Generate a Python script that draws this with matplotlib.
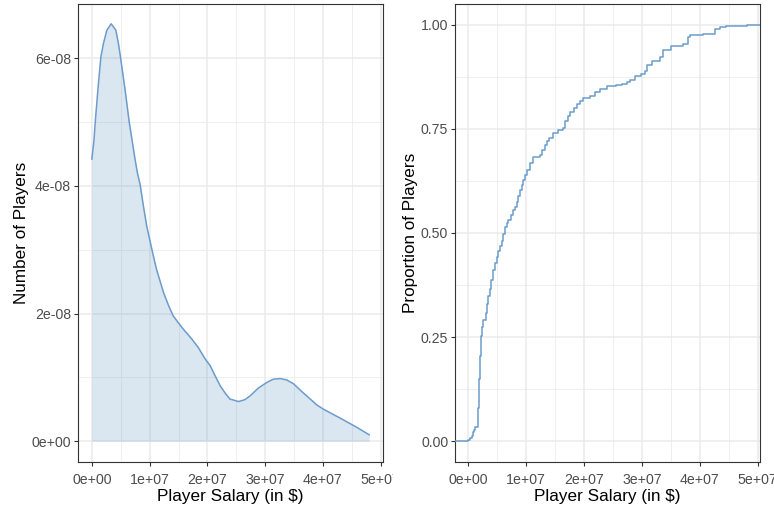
import numpy as np
import matplotlib.pyplot as plt
from matplotlib.patches import Rectangle
from matplotlib.ticker import FixedLocator

# Densidad estimada del salario (x en dólares, y en densidad)
salario_dens = np.array([0.0, 0.035, 0.062, 0.104, 0.156, 0.20, 0.26, 0.334, 0.415, 0.46,
                         0.495, 0.576, 0.645, 0.749, 0.789, 0.836, 0.893, 0.95, 1.04, 1.12,
                         1.24, 1.33, 1.41, 1.56, 1.73, 1.84, 1.96, 2.05, 2.13, 2.22,
                         2.31, 2.39, 2.54, 2.65, 2.74, 2.88, 3.03, 3.14, 3.26, 3.37,
                         3.49, 3.63, 3.78, 3.89, 4.01, 4.30, 4.58, 4.80]) * 1e7
densidad = np.array([4.42, 4.70, 5.04, 5.50, 6.02, 6.23, 6.44, 6.54, 6.44, 6.23,
                     6.02, 5.50, 5.01, 4.41, 4.20, 4.02, 3.68, 3.37, 3.00, 2.69,
                     2.33, 2.12, 1.96, 1.78, 1.60, 1.47, 1.29, 1.18, 1.03, 0.87,
                     0.75, 0.66, 0.62, 0.65, 0.71, 0.83, 0.92, 0.97, 0.98, 0.96,
                     0.90, 0.78, 0.66, 0.57, 0.50, 0.36, 0.22, 0.10]) * 1e-8

# Distribución acumulada empírica (escalones)
salario_ecdf = np.array([0.00, 0.03, 0.06, 0.086, 0.10, 0.116, 0.165, 0.175, 0.185, 0.19,
                         0.20, 0.22, 0.24, 0.26, 0.30, 0.32, 0.345, 0.37, 0.40, 0.43,
                         0.46, 0.49, 0.518, 0.55, 0.577, 0.60, 0.634, 0.66, 0.69, 0.73,
                         0.777, 0.80, 0.836, 0.86, 0.893, 0.92, 0.95, 0.98, 1.01, 1.06,
                         1.12, 1.24, 1.28, 1.32, 1.36, 1.40, 1.47, 1.55, 1.64, 1.67,
                         1.72, 1.76, 1.82, 1.87, 1.93, 1.99, 2.10, 2.19, 2.27, 2.39,
                         2.56, 2.66, 2.74, 2.80, 2.88, 2.99, 3.05, 3.08, 3.17, 3.31,
                         3.37, 3.51, 3.71, 3.80, 3.83, 4.06, 4.26, 4.35, 4.46, 4.81]) * 1e7
proporcion = np.array([0.004, 0.008, 0.013, 0.021, 0.027, 0.033, 0.069, 0.080, 0.100, 0.149,
                       0.205, 0.252, 0.275, 0.292, 0.308, 0.330, 0.348, 0.365, 0.388, 0.410,
                       0.428, 0.443, 0.456, 0.468, 0.480, 0.497, 0.515, 0.523, 0.531, 0.543,
                       0.555, 0.563, 0.575, 0.588, 0.603, 0.615, 0.627, 0.640, 0.651, 0.667,
                       0.683, 0.687, 0.700, 0.711, 0.720, 0.727, 0.739, 0.748, 0.751, 0.770,
                       0.780, 0.790, 0.800, 0.810, 0.817, 0.825, 0.828, 0.838, 0.846, 0.854,
                       0.856, 0.859, 0.862, 0.868, 0.878, 0.882, 0.890, 0.904, 0.912, 0.922,
                       0.940, 0.950, 0.955, 0.971, 0.975, 0.978, 0.990, 0.994, 0.998, 1.000])

x_ticks = [0, 1e7, 2e7, 3e7, 4e7, 5e7]
x_labels = ['0e+00', '1e+07', '2e+07', '3e+07', '4e+07', '5e+07']
y_ticks_dens = [0, 2e-8, 4e-8, 6e-8]
y_labels_dens = ['0e+00', '2e-08', '4e-08', '6e-08']
y_ticks_ecdf = [0, 0.25, 0.5, 0.75, 1.0]
y_labels_ecdf = ['0.00', '0.25', '0.50', '0.75', '1.00']

plt.rcParams['font.family'] = ['Liberation Sans', 'DejaVu Sans']

LINEA = '#6b9ccb'
GRIS_BORDE = '#333333'
GRID = '#ebebeb'


def estilo_bw(ax, xlim, ylim, xt, xl, yt, yl, minor_x, minor_y):
    """Aplica un estilo parecido a theme_bw de ggplot."""
    ax.set_xlim(*xlim)
    ax.set_ylim(*ylim)
    ax.set_xticks(xt)
    ax.set_xticklabels(xl)
    ax.set_yticks(yt)
    ax.set_yticklabels(yl)
    ax.xaxis.set_minor_locator(FixedLocator(minor_x))
    ax.yaxis.set_minor_locator(FixedLocator(minor_y))
    ax.grid(True, which='major', color=GRID, linewidth=1.1, zorder=0)
    ax.grid(True, which='minor', color=GRID, linewidth=0.55, zorder=0)
    ax.set_axisbelow(True)
    for s in ax.spines.values():
        s.set_color(GRIS_BORDE)
        s.set_linewidth(0.8)
    ax.tick_params(which='major', length=2.75, width=0.8, color=GRIS_BORDE,
                   labelcolor='#4d4d4d', labelsize=10.2, pad=2.2)
    ax.tick_params(axis='x', which='major', pad=5.5)
    ax.tick_params(which='minor', length=0)


fig = plt.figure(figsize=(7.74, 5.07), dpi=100)
W, H = 774, 507
ax1 = fig.add_axes([78 / W, 1 - 462 / H, 305 / W, 458 / H])
ax2 = fig.add_axes([455 / W, 1 - 462 / H, 305 / W, 458 / H])

# Panel izquierdo: densidad
ax1.fill_between(salario_dens, 0, densidad, color='steelblue', alpha=0.2,
                 linewidth=0, zorder=2)
ax1.plot(salario_dens, densidad, color=LINEA, linewidth=1.1, zorder=3,
         solid_joinstyle='round')
estilo_bw(ax1, (-0.24e7, 5.04e7), (-0.327e-8, 6.85e-8),
          x_ticks, x_labels, y_ticks_dens, y_labels_dens,
          [0.5e7, 1.5e7, 2.5e7, 3.5e7, 4.5e7], [1e-8, 3e-8, 5e-8])
ax1.set_xlabel('Player Salary (in $)', fontsize=12.3, labelpad=1)
ax1.set_ylabel('Number of Players', fontsize=12.3, labelpad=2)

# Panel derecho: ECDF con extremos en -inf / +inf
xe = np.concatenate([[-1e8], salario_ecdf, [1e8]])
ye = np.concatenate([[0.0], proporcion, [1.0]])
ax2.step(xe, ye, where='post', color=LINEA, linewidth=1.1, zorder=3)
estilo_bw(ax2, (-0.23e7, 5.04e7), (-0.05, 1.05),
          x_ticks, x_labels, y_ticks_ecdf, y_labels_ecdf,
          [0.5e7, 1.5e7, 2.5e7, 3.5e7, 4.5e7], [0.125, 0.375, 0.625, 0.875])
ax2.set_xlabel('Player Salary (in $)', fontsize=12.3, labelpad=1)
ax2.set_ylabel('Proportion of Players', fontsize=12.3, labelpad=2)

# Fondo blanco del segundo gráfico tapa la etiqueta final del primero
fig.add_artist(Rectangle((393 / W, 0), 54 / W, 45 / H, transform=fig.transFigure,
                         facecolor='white', edgecolor='none', zorder=10))

fig.savefig('out.png', dpi=100)
